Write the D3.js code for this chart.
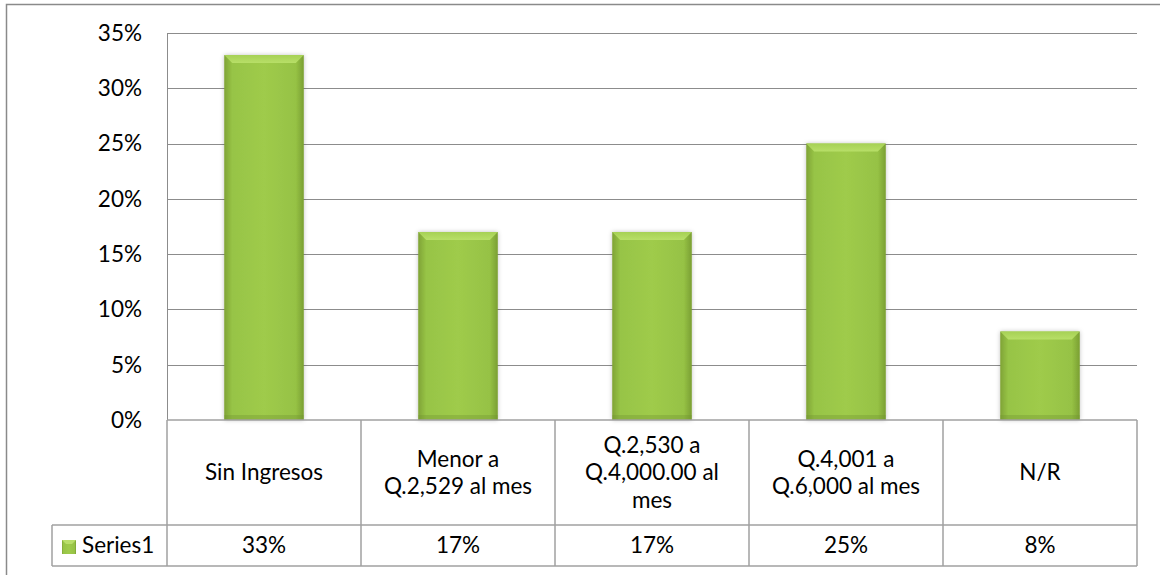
<!DOCTYPE html>
<html>
<head>
<meta charset="utf-8">
<script src="https://cdn.jsdelivr.net/npm/d3@7"></script>
<style>
  body { margin: 0; background: #fff; }
  svg { display: block; font-family: "Lato", "Open Sans", sans-serif; }
</style>
</head>
<body>
<svg width="1160" height="575"></svg>
<script>
// chart data
const categories = ["Sin Ingresos", "Menor a Q.2,529 al mes", "Q.2,530 a Q.4,000.00 al mes", "Q.4,001 a Q.6,000 al mes", "N/R"];
const categoryLines = [["Sin Ingresos"], ["Menor a", "Q.2,529 al mes"], ["Q.2,530 a", "Q.4,000.00 al", "mes"], ["Q.4,001 a", "Q.6,000 al mes"], ["N/R"]];
const values = [0.33, 0.17, 0.17, 0.25, 0.08];
const valueLabels = ["33%", "17%", "17%", "25%", "8%"];
const tickValues = [0, 0.05, 0.10, 0.15, 0.20, 0.25, 0.30, 0.35];
const seriesName = "Series1";

const svg = d3.select("svg");

const plotLeft = 167, plotRight = 1137, plotTop = 33, plotBottom = 420,
    rowBottom = 525, tableBottom = 566, keyLeft = 52;
const fontSize = 22.5;

const x = d3.scaleBand()
    .domain(categories)
    .range([plotLeft, plotRight]);

const y = d3.scaleLinear()
    .domain([0, 0.35])
    .range([plotBottom, plotTop]);

const gridColor = "#8c8c8c";
const lineColor = "#a0a0a0";

// outer chart frame
svg.append("path")
    .attr("d", "M6.5,575 V4.5 H1160")
    .attr("fill", "none")
    .attr("stroke", "#8a8a8a")
    .attr("stroke-width", 1.5);

// gradients
const defs = svg.append("defs");
const grad = defs.append("linearGradient").attr("id", "barGrad")
    .attr("x1", "0%").attr("x2", "100%").attr("y1", "0%").attr("y2", "0%");
grad.selectAll("stop")
    .data([[0, "#7fa336"], [0.1, "#97c446"], [0.5, "#9fcb4b"], [0.9, "#96c245"], [1, "#7a9f32"]])
    .enter().append("stop")
    .attr("offset", d => d[0])
    .attr("stop-color", d => d[1]);

const topGrad = defs.append("linearGradient").attr("id", "topGrad")
    .attr("x1", "0%").attr("x2", "0%").attr("y1", "0%").attr("y2", "100%");
topGrad.selectAll("stop")
    .data([[0, "#a6d155"], [1, "#b8df68"]])
    .enter().append("stop")
    .attr("offset", d => d[0])
    .attr("stop-color", d => d[1]);

defs.append("filter").attr("id", "shadow")
    .attr("x", "-20%").attr("y", "-10%").attr("width", "140%").attr("height", "120%")
    .append("feDropShadow")
    .attr("dx", 0).attr("dy", 0).attr("stdDeviation", 2)
    .attr("flood-color", "#000").attr("flood-opacity", 0.25);

// gridlines
svg.append("g")
    .selectAll("line")
    .data(tickValues.slice(1))
    .enter().append("line")
    .attr("x1", plotLeft).attr("x2", plotRight)
    .attr("y1", d => Math.round(y(d)) + 0.5)
    .attr("y2", d => Math.round(y(d)) + 0.5)
    .attr("stroke", gridColor)
    .attr("stroke-width", 1);

// y axis line
svg.append("line")
    .attr("x1", plotLeft + 0.5).attr("x2", plotLeft + 0.5)
    .attr("y1", plotTop).attr("y2", plotBottom)
    .attr("stroke", gridColor);

// y tick labels
svg.append("g")
    .selectAll("text")
    .data(tickValues)
    .enter().append("text")
    .attr("x", 142)
    .attr("y", d => y(d))
    .attr("dy", "0.35em")
    .attr("text-anchor", "end")
    .attr("font-size", fontSize)
    .attr("fill", "#000")
    .text(d3.format(".0%"));

// bars
const barW = x.bandwidth() * 0.41;
const bars = svg.append("g")
    .selectAll("g")
    .data(values)
    .enter().append("g");

bars.append("rect")
    .attr("x", (d, i) => x(categories[i]) + (x.bandwidth() - barW) / 2)
    .attr("y", d => y(d))
    .attr("width", barW)
    .attr("height", d => y(0) - y(d))
    .attr("fill", "url(#barGrad)")
    .attr("filter", "url(#shadow)");

// top bevel of each bar
bars.append("path")
    .attr("d", (d, i) => {
        const x0 = x(categories[i]) + (x.bandwidth() - barW) / 2,
            x1 = x0 + barW, y0 = y(d), b = 8;
        return "M" + x0 + "," + y0 + "H" + x1 + "L" + (x1 - b) + "," + (y0 + b) +
            "H" + (x0 + b) + "Z";
    })
    .attr("fill", "url(#topGrad)");

// bottom shade of each bar
bars.append("rect")
    .attr("x", (d, i) => x(categories[i]) + (x.bandwidth() - barW) / 2)
    .attr("y", y(0) - 5)
    .attr("width", barW)
    .attr("height", 5)
    .attr("fill", "#6f9330")
    .attr("opacity", 0.35);

// data table
const table = svg.append("g")
    .attr("stroke", lineColor)
    .attr("stroke-width", 1.5)
    .attr("fill", "none");

table.append("line")
    .attr("x1", plotLeft).attr("x2", plotRight)
    .attr("y1", plotBottom).attr("y2", plotBottom);
table.append("line")
    .attr("x1", keyLeft).attr("x2", plotRight)
    .attr("y1", rowBottom).attr("y2", rowBottom);
table.append("line")
    .attr("x1", keyLeft).attr("x2", plotRight)
    .attr("y1", tableBottom).attr("y2", tableBottom);
table.append("line")
    .attr("x1", keyLeft).attr("x2", keyLeft)
    .attr("y1", rowBottom).attr("y2", tableBottom);
table.selectAll(".col")
    .data(categories.concat(["end"]))
    .enter().append("line")
    .attr("x1", (d, i) => i < categories.length ? x(d) : plotRight)
    .attr("x2", (d, i) => i < categories.length ? x(d) : plotRight)
    .attr("y1", plotBottom)
    .attr("y2", tableBottom);

// category labels
const lineH = 27.5;
const midRow = (plotBottom + rowBottom) / 2;
svg.append("g")
    .selectAll("text")
    .data(categoryLines)
    .enter().append("text")
    .attr("text-anchor", "middle")
    .attr("font-size", fontSize)
    .attr("fill", "#000")
    .each(function(lines, i) {
        const t = d3.select(this);
        const cx = x(categories[i]) + x.bandwidth() / 2;
        lines.forEach((l, j) => {
            t.append("tspan")
                .attr("x", cx)
                .attr("y", midRow + (j - (lines.length - 1) / 2) * lineH)
                .attr("dy", "0.35em")
                .text(l);
        });
    });

// value labels
const valRow = (rowBottom + tableBottom) / 2;
svg.append("g")
    .selectAll("text")
    .data(valueLabels)
    .enter().append("text")
    .attr("x", (d, i) => x(categories[i]) + x.bandwidth() / 2)
    .attr("y", valRow)
    .attr("dy", "0.35em")
    .attr("text-anchor", "middle")
    .attr("font-size", fontSize)
    .attr("fill", "#000")
    .text(d => d);

// legend key
svg.append("rect")
    .attr("x", 62).attr("y", 540)
    .attr("width", 14).attr("height", 14)
    .attr("fill", "url(#barGrad)");
svg.append("path")
    .attr("d", "M62,540H76L72,544H66Z")
    .attr("fill", "#b9de6a");
svg.append("text")
    .attr("x", 82)
    .attr("y", valRow)
    .attr("dy", "0.35em")
    .attr("font-size", fontSize)
    .attr("fill", "#000")
    .text(seriesName);
</script>
</body>
</html>
